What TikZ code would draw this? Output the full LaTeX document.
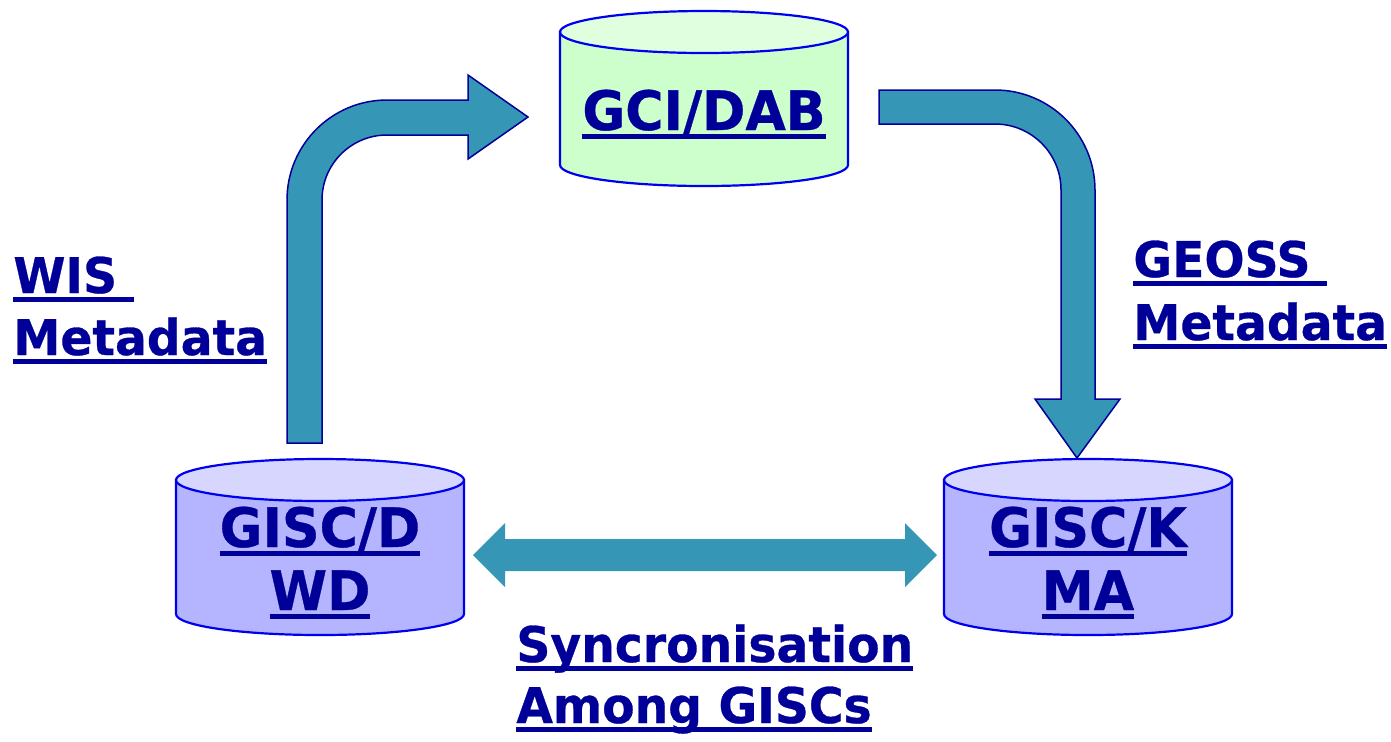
\documentclass[tikz,border=0pt]{standalone}
\usepackage{fontspec}
\setmainfont{DejaVu Sans}[BoldFeatures={FakeBold=0.6, FakeStretch=0.96}]
\definecolor{txtnavy}{HTML}{000099}
\definecolor{arrowfill}{HTML}{3596B5}
\definecolor{cylblue}{HTML}{0000EE}
\definecolor{greenbody}{HTML}{CCFFCC}
\definecolor{greentop}{HTML}{DFFFDF}
\definecolor{lilacbody}{HTML}{B4B4FF}
\definecolor{lilactop}{HTML}{D6D6FF}
\newsavebox\ulbox
\newcommand\ulx[1]{\sbox\ulbox{#1}\rlap{\rule[-4.5pt]{\wd\ulbox}{2.6pt}}\usebox\ulbox}
\tikzset{
  lbl/.style={inner sep=0pt, text=txtnavy, font=\bfseries\fontsize{24.6pt}{30pt}\selectfont},
  cyllbl/.style={inner sep=0pt, text=txtnavy, font=\bfseries\fontsize{27.2pt}{30pt}\selectfont, anchor=base},
  cylbody/.style={draw=cylblue, line width=1.1pt},
  blockarrow/.style={fill=arrowfill, draw=txtnavy, line width=0.75pt, line join=miter},
}
\begin{document}
\begin{tikzpicture}[x=0.5pt, y=-0.5pt]
\useasboundingbox (0,0) rectangle (1391,741);
% GCI/DAB cylinder
\path[cylbody, fill=greenbody] (560,32) -- (560,165) arc[start angle=180, end angle=360, x radius=72pt, y radius=10.5pt] -- (848,32) -- cycle;
\path[cylbody, fill=greentop] (704,32) ellipse [x radius=72pt, y radius=10.5pt];
\node[cyllbl] (gci) at (704,130) {\ulx{GCI/DAB}};
% GISC/DWD cylinder
\path[cylbody, fill=lilacbody] (176,480) -- (176,614) arc[start angle=180, end angle=360, x radius=72pt, y radius=10.5pt] -- (464,480) -- cycle;
\path[cylbody, fill=lilactop] (320,480) ellipse [x radius=72pt, y radius=10.5pt];
\node[cyllbl] (dwd1) at (320,547) {\ulx{GISC/D}};
\node[cyllbl] (dwd2) at (320,610) {\ulx{WD}};
% GISC/KMA cylinder
\path[cylbody, fill=lilacbody] (944,480) -- (944,614) arc[start angle=180, end angle=360, x radius=72pt, y radius=10.5pt] -- (1232,480) -- cycle;
\path[cylbody, fill=lilactop] (1088,480) ellipse [x radius=72pt, y radius=10.5pt];
\node[cyllbl] (kma1) at (1088,547) {\ulx{GISC/K}};
\node[cyllbl] (kma2) at (1088,610) {\ulx{MA}};
% left bent arrow
\path[blockarrow] (287,443) -- (287,200) arc[start angle=180, end angle=90, radius=50pt]
  -- (468,100) -- (468,75) -- (528,117) -- (468,159) -- (468,135) -- (387,135)
  arc[start angle=90, end angle=180, radius=32.5pt] -- (322,443) -- cycle;
% right bent arrow
\path[blockarrow] (879,90) -- (995,90) arc[start angle=90, end angle=0, radius=50pt]
  -- (1095,399) -- (1120,399) -- (1077,458) -- (1035,399) -- (1061,399) -- (1061,190)
  arc[start angle=0, end angle=90, radius=33pt] -- (879,124) -- cycle;
% double arrow
\fill[arrowfill] (473,555) -- (505,523) -- (505,539) -- (905,539) -- (905,523) -- (937,555)
  -- (905,587) -- (905,571) -- (505,571) -- (505,587) -- cycle;
% labels
\node[lbl, anchor=base west] (wis1) at (13,293) {\ulx{WIS\ }};
\node[lbl, anchor=base west] (wis2) at (13,355) {\ulx{Metadata}};
\node[lbl, anchor=base west] (geo1) at (1133,277) {\ulx{GEOSS\ }};
\node[lbl, anchor=base west] (geo2) at (1133,340) {\ulx{Metadata}};
\node[lbl, anchor=base west] (syn1) at (516,662) {\ulx{Syncronisation}};
\node[lbl, anchor=base west] (syn2) at (516,723) {\ulx{Among GISCs}};
\end{tikzpicture}
\end{document}
